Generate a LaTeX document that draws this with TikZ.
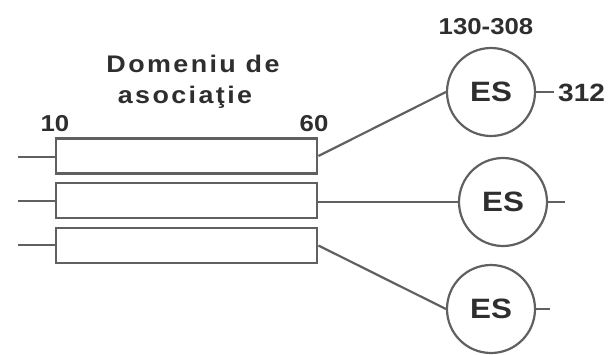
\documentclass[tikz,border=0pt]{standalone}
\usepackage{fontspec}
\setmainfont{Liberation Sans}
\newfontfamily\lblfont[FakeStretch=1.12]{Liberation Sans Bold}
\newfontfamily\headfont[FakeStretch=1.12,LetterSpace=10]{Liberation Sans Bold}
\definecolor{ink}{HTML}{2E2E2E}
\definecolor{linec}{HTML}{606060}
\tikzset{
  boxnode/.style={draw=linec, line width=2.8pt, minimum width=261pt, minimum height=35pt, inner sep=0pt},
  esnode/.style={circle, draw=linec, line width=2.2pt, minimum size=88pt, inner sep=0pt, text=ink, font=\lblfont\fontsize{28}{30}\selectfont},
  conn/.style={draw=linec, line width=2.2pt},
  lbl/.style={text=ink, inner sep=0pt, anchor=base},
}
\begin{document}
\begin{tikzpicture}[x=1pt,y=-1pt]
\useasboundingbox (0,0) rectangle (609,354);
% boxes
\node[boxnode] (b1) at (186.5,156) {};
\node[boxnode] (b2) at (186.5,200.5) {};
\node[boxnode] (b3) at (186.5,245.5) {};
% circles
\node[esnode] (c1) at (491,92) {ES};
\node[esnode] (c2) at (503,202) {ES};
\node[esnode] (c3) at (491,309) {ES};
% labels
\node[lbl, font=\headfont\fontsize{24}{26}\selectfont] (h1) at (193,72) {Domeniu de};
\node[lbl, font=\headfont\fontsize{24}{26}\selectfont] (h2) at (185,103) {asociaţie};
\node[lbl, font=\lblfont\fontsize{23}{25}\selectfont] (n10) at (55,131) {10};
\node[lbl, font=\lblfont\fontsize{23}{25}\selectfont] (n60) at (314,131) {60};
\node[lbl, font=\lblfont\fontsize{23}{25}\selectfont] (nr) at (486,34) {130-308};
\node[lbl, font=\lblfont\fontsize{25}{27}\selectfont, anchor=base west] (n312) at (558,101) {312};
% stubs
\coordinate (l1) at (18,157);
\coordinate (l2) at (18,201);
\coordinate (l3) at (18,245);
\draw[conn] (l1) -- (b1.west |- l1);
\draw[conn] (l2) -- (b2.west |- l2);
\draw[conn] (l3) -- (b3.west |- l3);
\coordinate (r1) at (554,92);
\coordinate (r2) at (565,202);
\coordinate (r3) at (550,309);
\draw[conn] (c1.east) -- (r1);
\draw[conn] (c2.east) -- (r2);
\draw[conn] (c3.east) -- (r3);
% connectors
\draw[conn] (b1.east) -- (c1.west);
\draw[conn] (b2.east |- c2.west) -- (c2.west);
\draw[conn] (b3.east) -- (c3.west);
\end{tikzpicture}
\end{document}
